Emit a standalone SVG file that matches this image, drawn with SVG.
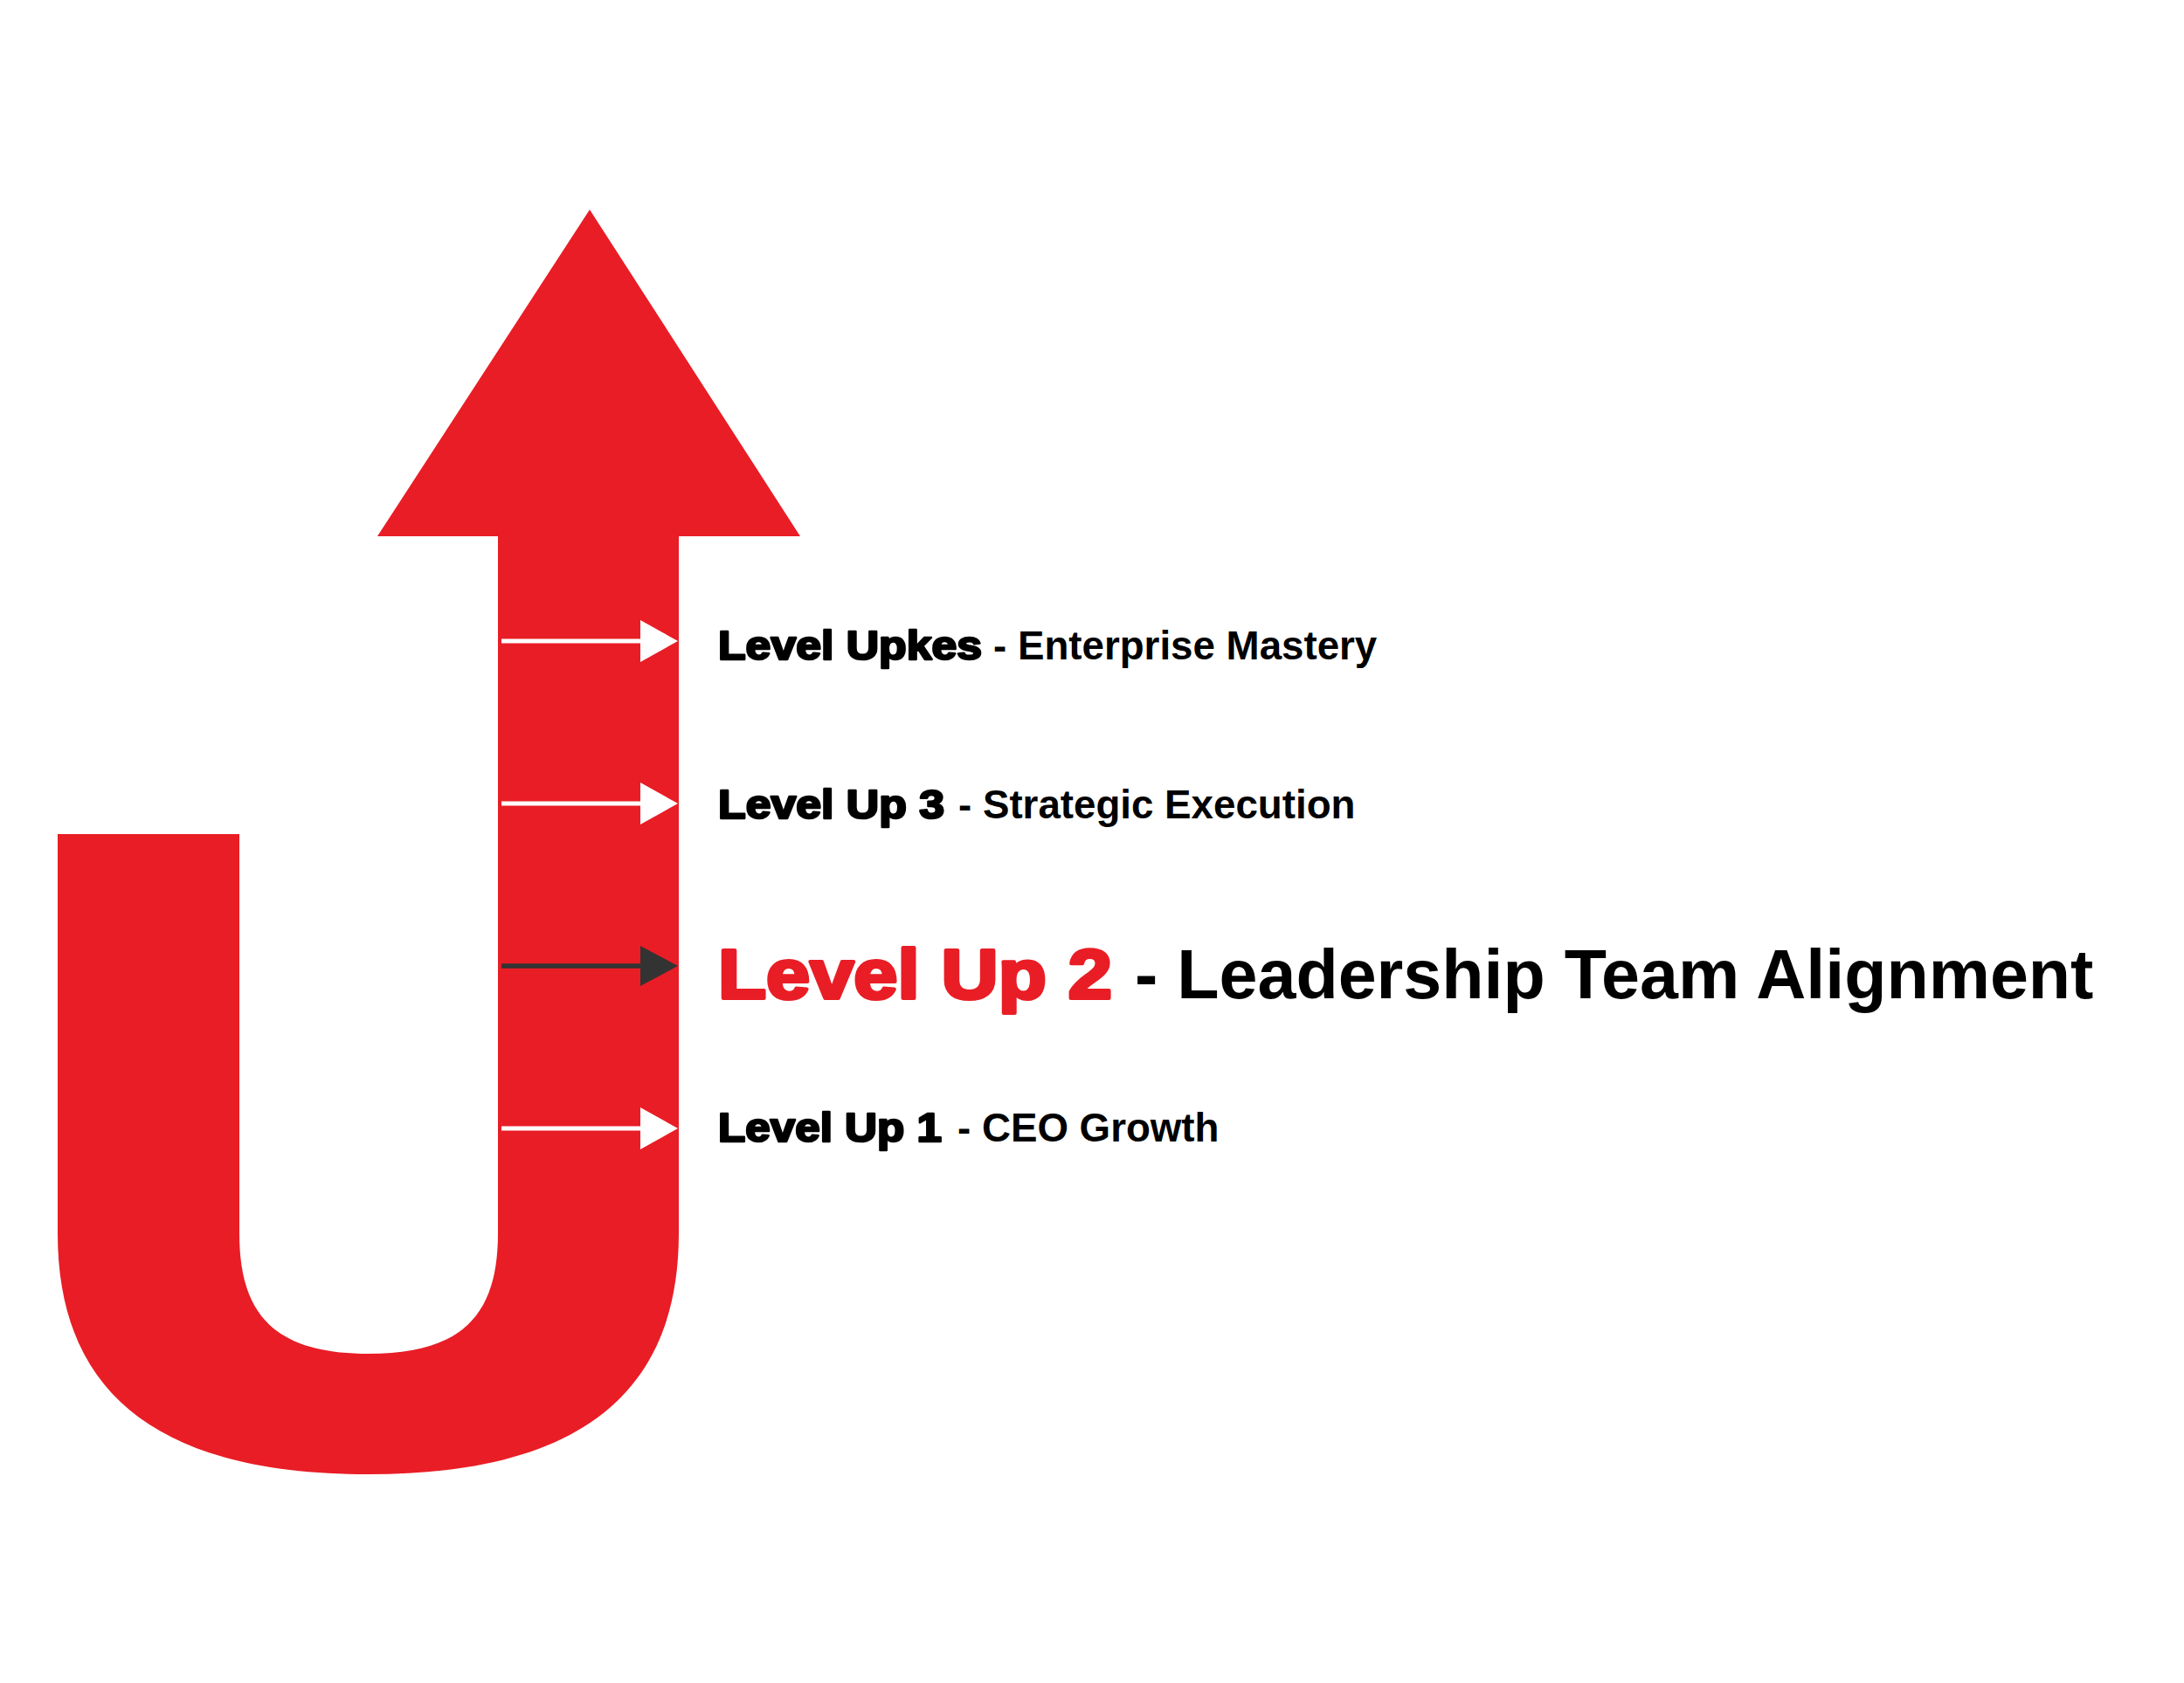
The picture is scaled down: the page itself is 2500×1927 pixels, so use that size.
<svg xmlns="http://www.w3.org/2000/svg" width="2500" height="1927" viewBox="0 0 2500 1927">
<style>
.hv{font-family:"Liberation Sans",Arial,sans-serif;font-weight:bold;stroke-linejoin:round}
.bd{font-family:"Liberation Sans",Arial,sans-serif;font-weight:bold;fill:#000}
.sm{font-size:45.7px}
.lg{font-size:79px}
.blk{fill:#000;stroke:#000;stroke-width:2.5}
.red{fill:#E91D25;stroke:#E91D25;stroke-width:4}
.wl{stroke:#fff;stroke-width:5;fill:none}
.dl{stroke:#333;stroke-width:5.5;fill:none}
</style>
<defs>
<marker id="hw" viewBox="0 0 43 48" markerWidth="43" markerHeight="48" refX="12" refY="24" orient="auto" markerUnits="userSpaceOnUse">
<path d="M0,0 L43,24 L0,48 Z" fill="#fff"/>
</marker>
<marker id="hd" viewBox="0 0 43 46" markerWidth="43" markerHeight="46" refX="12" refY="23" orient="auto" markerUnits="userSpaceOnUse">
<path d="M0,0 L43,23 L0,46 Z" fill="#333"/>
</marker>
</defs>
<rect width="2500" height="1927" fill="#fff"/>
<g id="u-arrow">
<path d="M675,240 L916,614 L777,614 L777,1412 C777,1605 650,1688 422,1688 C194,1688 66,1605 66,1412 L66,955 L274,955 L274,1412 C274,1505 314,1550 422,1550 C530,1550 570,1505 570,1412 L570,614 L432,614 Z" fill="#E91D25"/>
</g>
<g id="connectors">
<line class="wl" x1="574" y1="734" x2="745" y2="734" marker-end="url(#hw)"/>
<line class="wl" x1="574" y1="920" x2="745" y2="920" marker-end="url(#hw)"/>
<line class="dl" x1="574" y1="1106" x2="745" y2="1106" marker-end="url(#hd)"/>
<line class="wl" x1="574" y1="1292" x2="745" y2="1292" marker-end="url(#hw)"/>
</g>
<g id="level-upkes">
<text class="hv sm blk" x="822" y="755" textLength="302" lengthAdjust="spacingAndGlyphs">Level Upkes</text>
<text class="bd sm" x="1137" y="755">- Enterprise Mastery</text>
</g>
<g id="level-up-3">
<text class="hv sm blk" x="822" y="937" textLength="259" lengthAdjust="spacingAndGlyphs">Level Up 3</text>
<text class="bd sm" x="1097" y="937">- Strategic Execution</text>
</g>
<g id="level-up-2">
<text class="hv lg red" x="822" y="1143" textLength="451" lengthAdjust="spacingAndGlyphs">Level Up 2</text>
<text class="bd lg" x="1299" y="1143">- Leadership Team Alignment</text>
</g>
<g id="level-up-1">
<text class="hv sm blk" x="822" y="1307" textLength="256" lengthAdjust="spacingAndGlyphs">Level Up 1</text>
<text class="bd sm" x="1096" y="1307">- CEO Growth</text>
</g>
</svg>
